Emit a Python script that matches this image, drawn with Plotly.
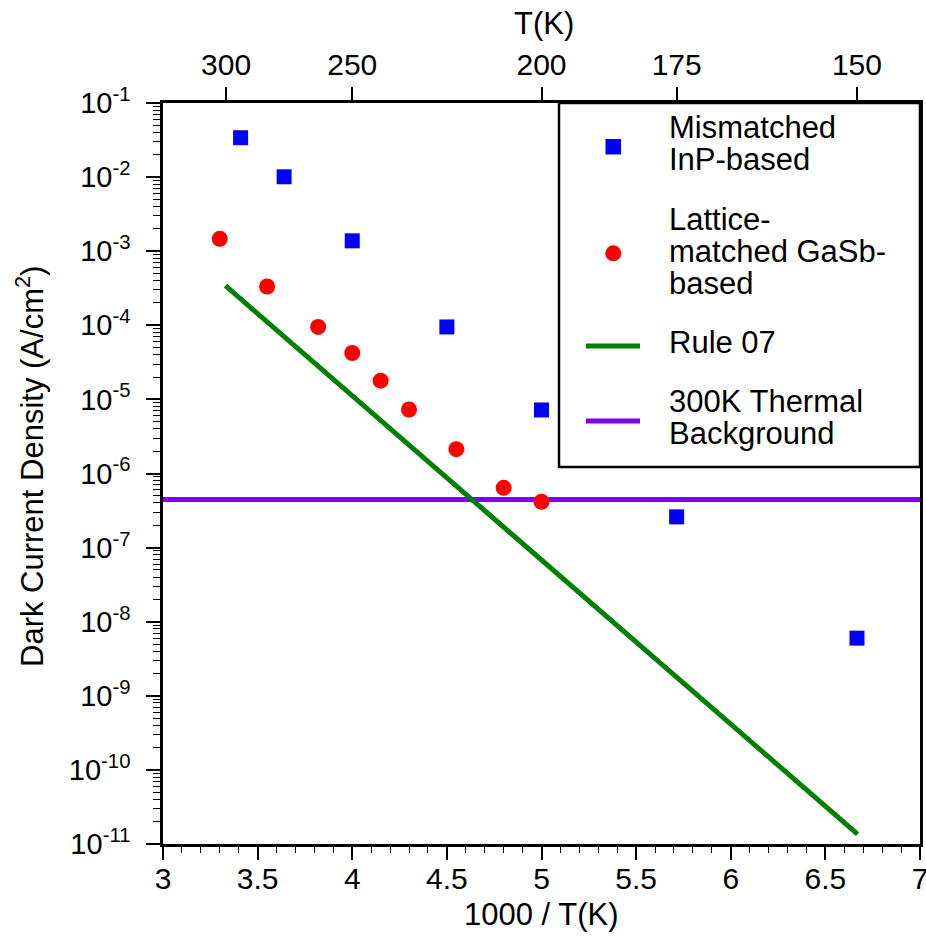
import plotly.graph_objects as go

# ---------------- data ----------------
inp_x = [3.41, 3.64, 4.0, 4.5, 5.0, 5.714, 6.667]
inp_y = [0.034, 0.0101, 1.38e-3, 9.5e-5, 7.2e-6, 2.6e-7, 6.0e-9]

gasb_x = [3.30, 3.55, 3.82, 4.0, 4.15, 4.30, 4.55, 4.80, 5.0]
gasb_y = [1.47e-3, 3.34e-4, 9.5e-5, 4.23e-5, 1.79e-5, 7.3e-6, 2.13e-6, 6.4e-7, 4.16e-7]

rule07_x = [3.33, 4.63, 6.67]
rule07_y = [3.42e-4, 4.43e-7, 1.36e-11]

thermal_x = [3.0, 7.0]
thermal_y = [4.47e-7, 4.47e-7]

top_T = [300, 250, 200, 175, 150]
top_ticktext = ["300", "250", "200", "175", "150"]

x_tickvals = [3, 3.5, 4, 4.5, 5, 5.5, 6, 6.5, 7]
x_ticktext = ["3", "3.5", "4", "4.5", "5", "5.5", "6", "6.5", "7"]

y_exponents = list(range(-1, -12, -1))

# ---------------- layout constants ----------------
W, H = 926, 936
ML, MT = 163, 103
PW, PH = 757, 741
MR, MB = W - ML - PW, H - MT - PH
FONT = "Liberation Sans, Arial, Helvetica, sans-serif"


def px2x(px):
    return (px - ML) / PW


def py2y(py):
    return (H - MB - py) / PH


fig = go.Figure()

fig.add_trace(go.Scatter(
    x=thermal_x, y=thermal_y, mode="lines", name="300K Thermal Background",
    line=dict(color="#8000ff", width=5), showlegend=False))
fig.add_trace(go.Scatter(
    x=rule07_x, y=rule07_y, mode="lines", name="Rule 07",
    line=dict(color="#008000", width=5), showlegend=False))
fig.add_trace(go.Scatter(
    x=inp_x, y=inp_y, mode="markers", name="Mismatched InP-based",
    marker=dict(symbol="square", size=15, color="#0000ff", line=dict(width=0)),
    showlegend=False))
fig.add_trace(go.Scatter(
    x=gasb_x, y=gasb_y, mode="markers", name="Lattice-matched GaSb-based",
    marker=dict(symbol="circle", size=16, color="#ff0000", line=dict(width=0)),
    showlegend=False))
# invisible trace to activate top axis
fig.add_trace(go.Scatter(x=[3, 7], y=[1e-6, 1e-6], xaxis="x2", mode="lines",
                         line=dict(width=0), opacity=0, showlegend=False,
                         hoverinfo="skip"))

y_minor = [m * 10.0 ** k for k in range(-11, -1) for m in range(2, 10)]

fig.update_layout(
    width=W, height=H,
    margin=dict(l=ML, r=MR, t=MT, b=MB, autoexpand=False),
    paper_bgcolor="white", plot_bgcolor="white",
    font=dict(family=FONT, size=30, color="black"),
    showlegend=False,
    xaxis=dict(
        range=[3, 7], tickmode="array", tickvals=x_tickvals,
        ticktext=x_ticktext, ticks="outside", ticklen=13,
        tickwidth=1.5, tickcolor="black", showline=True, linecolor="black",
        linewidth=2.5, showgrid=False, zeroline=False,
        tickfont=dict(size=30), ticklabeloverflow="allow",
        ticklabelstandoff=-7,
        minor=dict(dtick=0.1, tick0=3, ticks="outside", ticklen=6,
                   tickwidth=1.2, tickcolor="black", showgrid=False),
    ),
    xaxis2=dict(
        range=[3, 7], overlaying="x", side="top", anchor="y",
        tickmode="array", tickvals=[1000.0 / t for t in top_T],
        ticktext=top_ticktext, ticks="outside", ticklen=13, tickwidth=1.5,
        tickcolor="black", showline=True, linecolor="black", linewidth=2.5,
        showgrid=False, zeroline=False, tickfont=dict(size=30),
        ticklabeloverflow="allow", ticklabelstandoff=0,
    ),
    yaxis=dict(
        type="log", range=[-11, -1], tickmode="array",
        tickvals=[10.0 ** e for e in y_exponents],
        ticktext=["10<sup>%d</sup>" % e for e in y_exponents],
        ticks="outside", ticklen=14, tickwidth=1.5, tickcolor="black",
        showline=True, mirror=True, linecolor="black", linewidth=2.5,
        showgrid=False, zeroline=False, tickfont=dict(size=29),
        ticklabelstandoff=10,
        minor=dict(tickmode="array", tickvals=y_minor, ticks="outside",
                   ticklen=7, tickwidth=1.2, tickcolor="black", showgrid=False),
    ),
)

# ---------------- axis titles ----------------
fig.add_annotation(text="1000 / T(K)", xref="paper", yref="paper",
                   x=px2x(541), y=py2y(914), xanchor="center", yanchor="middle",
                   showarrow=False, font=dict(size=31, family=FONT, color="black"))
fig.add_annotation(text="T(K)", xref="paper", yref="paper",
                   x=px2x(544), y=py2y(23), xanchor="center", yanchor="middle",
                   showarrow=False, font=dict(size=31, family=FONT, color="black"))
fig.add_annotation(text="Dark Current Density (A/cm<sup>2</sup>)",
                   xref="paper", yref="paper", textangle=-90,
                   x=px2x(30), y=py2y(467), xanchor="center", yanchor="middle",
                   showarrow=False, font=dict(size=31, family=FONT, color="black"))

# ---------------- legend (drawn box) ----------------
shapes = []
shapes.append(dict(type="rect", xref="paper", yref="paper",
                   x0=px2x(559), x1=px2x(920), y0=py2y(467), y1=py2y(103),
                   fillcolor="white", line=dict(color="black", width=2.5),
                   layer="above"))
# square symbol
shapes.append(dict(type="rect", xref="paper", yref="paper",
                   x0=px2x(605.5), x1=px2x(621), y0=py2y(154.5), y1=py2y(139),
                   fillcolor="#0000ff", line=dict(width=0), layer="above"))
# circle symbol
shapes.append(dict(type="circle", xref="paper", yref="paper",
                   x0=px2x(605.3), x1=px2x(621.3), y0=py2y(261.3), y1=py2y(245.3),
                   fillcolor="#ff0000", line=dict(width=0), layer="above"))
# line symbols
shapes.append(dict(type="line", xref="paper", yref="paper",
                   x0=px2x(586), x1=px2x(640), y0=py2y(346), y1=py2y(346),
                   line=dict(color="#008000", width=5), layer="above"))
shapes.append(dict(type="line", xref="paper", yref="paper",
                   x0=px2x(586), x1=px2x(640), y0=py2y(421), y1=py2y(421),
                   line=dict(color="#8000ff", width=5), layer="above"))
fig.update_layout(shapes=shapes)

legend_lines = [
    ("Mismatched", 128),
    ("InP-based", 160),
    ("Lattice-", 219),
    ("matched GaSb-", 251),
    ("based", 283),
    ("Rule 07", 342),
    ("300K Thermal", 401),
    ("Background", 433),
]
for txt, ypx in legend_lines:
    fig.add_annotation(text=txt, xref="paper", yref="paper",
                       x=px2x(667), y=py2y(ypx), xanchor="left",
                       yanchor="middle", showarrow=False,
                       font=dict(size=31, family=FONT, color="black"))

# remove the default page margin so the figure fills the window exactly
fig.write_html(
    "out.html",
    config={"displayModeBar": False},
    post_script="document.body.style.margin='0';"
                "document.body.style.overflow='hidden';",
)
